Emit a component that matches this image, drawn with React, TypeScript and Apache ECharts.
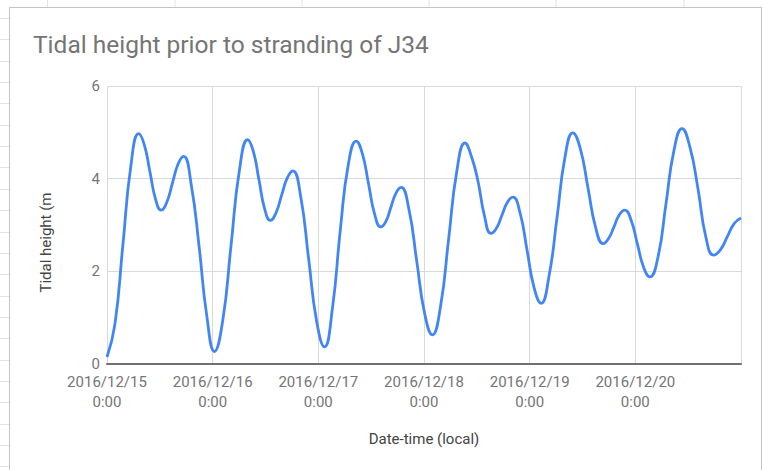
import React, { useEffect, useRef } from "react";
import * as echarts from "echarts";

// Hours since 2016/12/15 0:00 (local) and tidal height (m)
const hoursFromStart = [
  0, 1.8, 3.6, 5.4, 7.2, 8.475, 9.75, 11.025, 12.3, 13.575, 14.85, 16.125, 17.4,
  19.15, 20.9, 22.65, 24.4, 26.29, 28.175, 30.06, 31.95, 33.24, 34.525, 35.81,
  37.1, 38.375, 39.65, 40.925, 42.2, 44.0, 45.8, 47.6, 49.4, 51.2, 53.0, 54.8,
  56.6, 58.0, 59.4, 60.8, 62.2, 63.35, 64.5, 65.65, 66.8, 68.575, 70.35, 72.125,
  73.9, 75.75, 77.6, 79.45, 81.3, 82.775, 84.25, 85.725, 87.2, 88.45, 89.7, 90.95,
  92.2, 93.8, 95.4, 97.0, 98.6, 100.4, 102.2, 104.0, 105.8, 107.525, 109.25,
  110.975, 112.7, 113.925, 115.15, 116.375, 117.6, 119.025, 120.45, 121.875,
  123.3, 125.125, 126.95, 128.775, 130.6, 132.4, 134.2, 136.0, 137.8, 139.35,
  140.9, 142.45, 144,
];
const tidalHeight = [
  0.15, 0.86, 2.56, 4.26, 4.97, 4.73, 4.15, 3.56, 3.32, 3.49, 3.9, 4.31, 4.48,
  3.86, 2.55, 1.05, 0.27, 0.94, 2.56, 4.17, 4.84, 4.59, 3.97, 3.35,
  3.1, 3.26, 3.64, 4.01, 4.17, 3.61, 2.27, 0.93, 0.37, 1.2, 2.9, 4.3,
  4.81, 4.54, 3.89, 3.23, 2.96, 3.08, 3.39, 3.69, 3.81, 3.34, 2.22, 1.1,
  0.63, 1.24, 2.7, 4.16, 4.77, 4.48, 3.95, 3.2, 2.82, 2.93, 3.21, 3.49,
  3.6, 3.27, 2.46, 1.65, 1.31, 1.9, 3.15, 4.45, 4.99, 4.64, 3.8,
  2.95, 2.6, 2.71, 2.96, 3.22, 3.32, 3.11, 2.6, 2.09,
  1.88, 2.3, 3.45, 4.61, 5.08, 4.68, 3.8, 2.75, 2.35, 2.47,
  2.75, 3.03, 3.15,
];
const xTickLabels = [
  "2016/12/15\n0:00",
  "2016/12/16\n0:00",
  "2016/12/17\n0:00",
  "2016/12/18\n0:00",
  "2016/12/19\n0:00",
  "2016/12/20\n0:00",
  "",
];
const yTicks = [0, 2, 4, 6];

export default function App() {
  const ref = useRef<HTMLDivElement>(null);
  useEffect(() => {
    if (!ref.current) return;
    const chart = echarts.init(ref.current, null, { renderer: "svg" });
    const data = hoursFromStart.map((h, i) => [h, tidalHeight[i]]);

    const sheetLines: any[] = [];
    [47.5, 175, 302, 429, 556, 684].forEach((x) => {
      sheetLines.push({
        type: "line",
        shape: { x1: x, y1: 0, x2: x, y2: 7 },
        style: { stroke: "#e2e2e2", lineWidth: 1 },
        silent: true,
      });
    });
    for (let k = 0; k < 22; k++) {
      const y = Math.round(18 + 21.35 * k) + 0.5;
      sheetLines.push({
        type: "line",
        shape: { x1: 0, y1: y, x2: 9, y2: y },
        style: { stroke: "#e2e2e2", lineWidth: 1 },
        silent: true,
      });
    }

    chart.setOption({
      animation: false,
      backgroundColor: "#ffffff",
      title: {
        text: "Tidal height prior to stranding of J34",
        left: 33,
        top: 32,
        padding: 0,
        textStyle: {
          fontSize: 24.5,
          fontWeight: "normal",
          color: "#757575",
          fontFamily: "Roboto",
        },
      },
      grid: { left: 107, right: 22, top: 86, bottom: 106, containLabel: false },
      xAxis: {
        type: "value",
        min: 0,
        max: 144,
        interval: 24,
        name: "Date-time (local)",
        nameLocation: "middle",
        nameGap: 67,
        nameTextStyle: { color: "#444444", fontSize: 15, fontFamily: "Roboto" },
        axisLine: { show: true, lineStyle: { color: "#707070", width: 2 } },
        axisTick: { show: false },
        axisLabel: {
          color: "#757575",
          fontSize: 15,
          fontFamily: "Roboto",
          lineHeight: 20,
          margin: 8,
          formatter: (v: number) => xTickLabels[Math.round(v / 24)] ?? "",
        },
        splitLine: { show: true, lineStyle: { color: "#d9d9d9", width: 1 } },
      },
      yAxis: {
        type: "value",
        min: yTicks[0],
        max: yTicks[yTicks.length - 1],
        interval: 2,
        axisLine: { show: false },
        axisTick: { show: false },
        axisLabel: { color: "#757575", fontSize: 15, fontFamily: "Roboto", margin: 7 },
        splitLine: { show: true, lineStyle: { color: "#d9d9d9", width: 1 } },
      },
      series: [
        {
          type: "line",
          data,
          showSymbol: false,
          smooth: 0.5,
          lineStyle: { color: "#4285F4", width: 2.8 },
          itemStyle: { color: "#4285F4" },
          z: 3,
        },
      ],
      graphic: [
        ...sheetLines,
        {
          type: "rect",
          shape: { x: 9.5, y: 7.5, width: 752, height: 520 },
          style: { fill: "none", stroke: "#c4c4c4", lineWidth: 1 },
          silent: true,
          z: -1,
        },
        {
          type: "text",
          x: 46,
          y: 242.5,
          rotation: Math.PI / 2,
          style: {
            text: "Tidal height (m",
            fill: "#444444",
            fontSize: 15,
            fontFamily: "Roboto",
            align: "center",
            verticalAlign: "middle",
          },
          silent: true,
        },
      ],
    });
    return () => chart.dispose();
  }, []);
  return (
    <div
      ref={ref}
      style={{ position: "absolute", left: 0, top: 0, width: 763, height: 470 }}
    />
  );
}
